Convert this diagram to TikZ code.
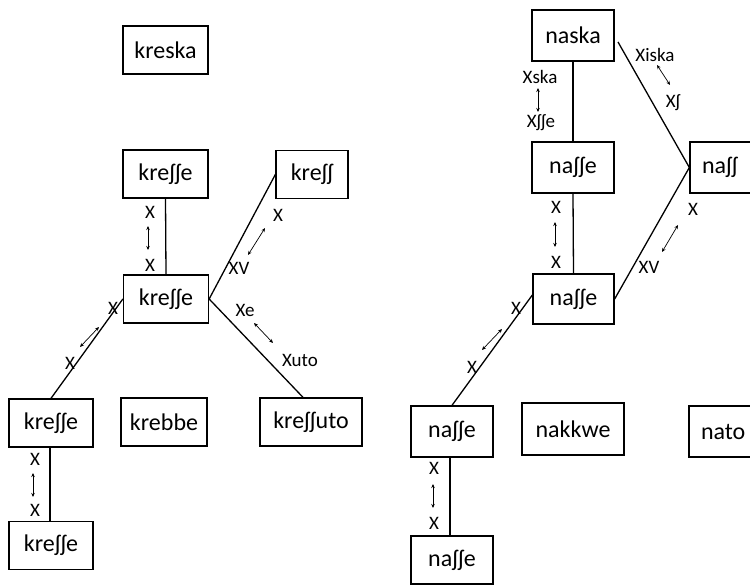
\documentclass[tikz,border=0pt]{standalone}
\usepackage{fontspec}
\setmainfont{Carlito}
\usetikzlibrary{arrows.meta}

\tikzset{
  form/.style={draw, line width=1.3pt, inner sep=0pt, minimum height=48pt,
    font=\fontsize{24}{28}\selectfont},
  lbl/.style={inner sep=0pt, font=\fontsize{19}{22}\selectfont},
  link/.style={line width=1.3pt},
  alt/.style={{Stealth[length=4pt,width=3.5pt]}-{Stealth[length=4pt,width=3.5pt]}, line width=0.7pt}
}

\begin{document}
\begin{tikzpicture}[x=1pt,y=-1pt]
    \useasboundingbox (0,0) rectangle (750,585);
    % kreska
    \node[form, minimum width=85pt] (kreska) at (165.5,50) {kreska};
    \node[form, minimum width=85pt] (kt) at (165.5,174) {kreʃʃe};
    \node[form, minimum width=72pt] (kss) at (312,174.5) {kreʃʃ};
    \node[form, minimum width=85pt] (km) at (166,299) {kreʃʃe};
    \node[form, minimum width=84pt] (kll) at (51,423) {kreʃʃe};
    \node[form, minimum width=86pt] (krebbe) at (164,422) {krebbe};
    \node[form, minimum width=102pt] (kuto) at (311,422) {kreʃʃuto};
    \node[form, minimum width=84pt] (kb) at (51,545.5) {kreʃʃe};

    \draw[link] (kt.south) -- (km.north);
    \draw[link] (km.east) -- (kss.west);
    \draw[link] (km.east) -- ([xshift=-8pt]kuto.north);
    \draw[link] (km.west) -- (kll.north);
    \draw[link] ([xshift=-1pt]kll.south) -- ([xshift=-1pt]kb.north);

    \node[lbl] (kt1) at (150,212) {X};
    \node[lbl] (kt2) at (150,265) {X};
    \draw[alt] (148,226) -- (148,250);
    \node[lbl] (ks1) at (278,215) {X};
    \node[lbl] (ks2) at (239,268) {XV};
    \draw[alt] (265,228) -- (248,255);
    \node[lbl] (ku1) at (245,310) {Xe};
    \node[lbl] (ku2) at (300,360) {Xuto};
    \draw[alt] (254,323) -- (273,343);
    \node[lbl] (kl1) at (113,308) {X};
    \node[lbl] (kl2) at (70,363) {X};
    \draw[alt] (99,327) -- (80,347);
    \node[lbl] (kb1) at (35,459) {X};
    \node[lbl] (kb2) at (35,510) {X};
    \draw[alt] (33,473) -- (33,497);

    % naska
    \node[form, minimum width=82pt, minimum height=51pt] (naska) at (573,35.5) {naska};
    \node[form, minimum width=82pt, minimum height=51pt] (nt) at (573,167.5) {naʃʃe};
    \node[form, minimum width=80pt, minimum height=51pt, text width=56pt] (nss) at (730,167.5) {naʃʃ};
    \node[form, minimum width=81pt, minimum height=50pt] (nm) at (573.5,299) {naʃʃe};
    \node[form, minimum width=82pt, minimum height=51pt] (nll) at (452,431.5) {naʃʃe};
    \node[form, minimum width=102pt, minimum height=52pt] (nakkwe) at (573,429) {nakkwe};
    \node[form, minimum width=80pt, minimum height=51pt, text width=56pt] (nato) at (729,431.5) {nato};
    \node[form, minimum width=82pt, minimum height=48pt] (nb) at (452,560) {naʃʃe};

    \coordinate (naskaout) at (618,42);
    \draw[link] (naska.south) -- (nt.north);
    \draw[link] (naskaout) -- (nss.west);
    \draw[link] (nt.south) -- (nm.north);
    \draw[link] (nm.east) -- (nss.west);
    \draw[link] ([yshift=4pt]nm.west) -- (nll.north);
    \draw[link] ([xshift=-2pt]nll.south) -- ([xshift=-2pt]nb.north);

    \node[lbl] (nk1) at (655,55) {Xiska};
    \node[lbl] (nk2) at (673,103) {Xʃ};
    \draw[alt] (657,65) -- (670,85);
    \node[lbl] (nt1) at (540,77) {Xska};
    \node[lbl] (nt2) at (541,123) {Xʃʃe};
    \draw[alt] (538,88) -- (538,112);
    \node[lbl] (nm1) at (556,207) {X};
    \node[lbl] (nm2) at (556,262) {X};
    \draw[alt] (555,222) -- (555,247);
    \node[lbl] (ns1) at (693,209) {X};
    \node[lbl] (ns2) at (649,267) {XV};
    \draw[alt] (678,225) -- (662,252);
    \node[lbl] (nl1) at (516,308) {X};
    \node[lbl] (nl2) at (472,367) {X};
    \draw[alt] (502,329) -- (482,350);
    \node[lbl] (nb1) at (434,468) {X};
    \node[lbl] (nb2) at (434,523) {X};
    \draw[alt] (433,484) -- (433,508);
\end{tikzpicture}
\end{document}
